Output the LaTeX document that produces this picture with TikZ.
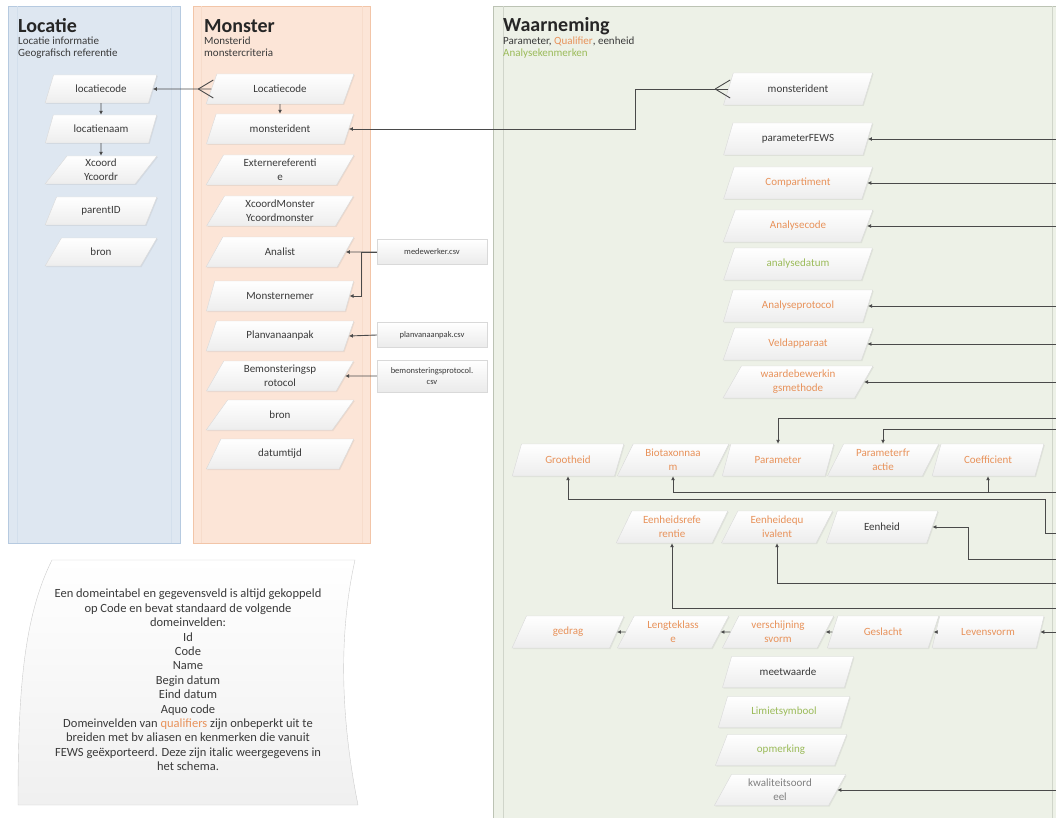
\documentclass[tikz,border=0pt]{standalone}
\usepackage{fontspec}
\setmainfont{Carlito}
\usetikzlibrary{shapes.geometric,arrows.meta,shadows}

\definecolor{tekst}{HTML}{3A3A3A}
\definecolor{qualif}{HTML}{E8925A}
\definecolor{analyse}{HTML}{9BBB59}
\definecolor{locvlak}{HTML}{DEE7F1}
\definecolor{locrand}{HTML}{B6CAE0}
\definecolor{monvlak}{HTML}{FCE5D7}
\definecolor{monrand}{HTML}{F2C5A8}
\definecolor{warvlak}{HTML}{EDF1E7}
\definecolor{warrand}{HTML}{BCC3B4}
\definecolor{lijn}{HTML}{4A4A4A}

\tikzset{
  veld/.style={trapezium, trapezium left angle=64, trapezium right angle=116,
    trapezium stretches=true, draw=gray!30, top color=white, bottom color=gray!14,
    text=tekst, font=\fontsize{11}{14}\selectfont, align=center, inner sep=1pt,
    drop shadow={opacity=0.12, shadow xshift=1pt, shadow yshift=-1pt}},
  locveld/.style={veld, minimum width=112pt, minimum height=28pt},
  monveld/.style={veld, minimum width=148pt, minimum height=30pt},
  warveld/.style={veld, minimum width=150pt, minimum height=32pt},
  rijveld/.style={veld, minimum width=112pt, minimum height=32pt},
  onderveld/.style={veld, minimum width=132pt, minimum height=31pt},
  csvveld/.style={rectangle, draw=gray!30, top color=white, bottom color=gray!16,
    text=tekst, font=\fontsize{8.5}{10.5}\selectfont, align=center, inner sep=1pt,
    minimum width=110pt, minimum height=25pt},
  qual/.style={text=qualif},
  ana/.style={text=analyse},
  titel/.style={font=\fontsize{20}{22}\selectfont\bfseries, text=black!85, anchor=west, inner sep=0pt},
  sub/.style={font=\fontsize{11}{12}\selectfont, text=tekst, anchor=north west, align=left, inner sep=0pt},
  pijl/.style={draw=lijn, line width=0.9pt, -{Latex[length=4pt,width=4pt]}},
  kraai/.style={draw=lijn, line width=0.9pt},
}

\begin{document}
\begin{tikzpicture}[x=1pt,y=-1pt]
\useasboundingbox (0,0) rectangle (1056,818);

% vlakken
\fill[locvlak] (8,6) rectangle (180,543);
\draw[locrand] (8,6) rectangle (180,543);
\draw[locrand!60] (17,6) -- (17,543) (171,6) -- (171,543);
\fill[monvlak] (193,6) rectangle (370,543);
\draw[monrand] (193,6) rectangle (370,543);
\draw[monrand!60] (201,6) -- (201,543) (362,6) -- (362,543);
\fill[warvlak] (493,6) rectangle (1056,818);
\draw[warrand] (493,818) -- (493,6) -- (1056,6);
\draw[warrand!70] (503,6) -- (503,818) (1052,6) -- (1052,818);

% titels
\node[titel] (loc-titel) at (18,26) {Locatie};
\node[sub] (loc-sub) at (18,37) {Locatie informatie\\Geografisch referentie};
\node[titel] (mon-titel) at (204,26) {Monster};
\node[sub] (mon-sub) at (204,37) {Monsterid\\monstercriteria};
\node[titel] (war-titel) at (503,26) {Waarneming};
\node[sub] (war-sub) at (503,37) {Parameter, {\color{qualif}Qualifier}, eenheid\\{\color{analyse}Analysekenmerken}};

% Locatie
\node[locveld] (loc-code) at (101,89) {locatiecode};
\node[locveld] (loc-naam) at (101,129) {locatienaam};
\node[locveld] (loc-xy) at (101,170) {Xcoord\\Ycoordr};
\node[locveld] (loc-parent) at (101,211) {parentID};
\node[locveld] (loc-bron) at (101,252) {bron};

% Monster
\node[monveld] (mon-locatie) at (280,89) {Locatiecode};
\node[monveld] (mon-ident) at (280,129) {monsterident};
\node[monveld] (mon-extern) at (280,170) {Externereferenti\\e};
\node[monveld] (mon-xy) at (280,211) {XcoordMonster\\Ycoordmonster};
\node[monveld] (mon-analist) at (280,252) {Analist};
\node[monveld] (mon-nemer) at (280,296) {Monsternemer};
\node[monveld] (mon-plan) at (280,336) {Planvanaanpak};
\node[monveld] (mon-protocol) at (280,376) {Bemonsteringsp\\rotocol};
\node[monveld] (mon-bron) at (280,415) {bron};
\node[monveld] (mon-datum) at (280,454) {datumtijd};

\node[csvveld] (csv-medewerker) at (432,252) {medewerker.csv};
\node[csvveld] (csv-plan) at (432,335) {planvanaanpak.csv};
\node[csvveld, minimum height=32pt] (csv-protocol) at (432,376) {bemonsteringsprotocol.\\csv};

% Waarneming
\node[warveld] (war-ident) at (798,89) {monsterident};
\node[warveld] (war-fews) at (798,139) {parameterFEWS};
\node[warveld, qual] (war-comp) at (798,183) {Compartiment};
\node[warveld, qual] (war-code) at (798,226) {Analysecode};
\node[warveld, ana] (war-datum) at (798,264) {analysedatum};
\node[warveld, qual] (war-protocol) at (798,306) {Analyseprotocol};
\node[warveld, qual] (war-veld) at (798,344) {Veldapparaat};
\node[warveld, qual] (war-bewerking) at (798,382) {waardebewerkin\\gsmethode};

\node[rijveld, qual] (war-grootheid) at (568,460) {Grootheid};
\node[rijveld, qual] (war-biotaxon) at (673,460) {Biotaxonnaa\\m};
\node[rijveld, qual] (war-parameter) at (778,460) {Parameter};
\node[rijveld, qual] (war-fractie) at (883,460) {Parameterfr\\actie};
\node[rijveld, qual] (war-coef) at (988,460) {Coefficient};

\node[rijveld, qual] (war-eenhref) at (672,527) {Eenheidsrefe\\rentie};
\node[rijveld, qual] (war-eenhequi) at (777,527) {Eenheidequ\\ivalent};
\node[rijveld] (war-eenheid) at (882,527) {Eenheid};

\node[rijveld, qual] (war-gedrag) at (568,632) {gedrag};
\node[rijveld, qual] (war-lengte) at (673,632) {Lengteklass\\e};
\node[rijveld, qual] (war-vorm) at (778,632) {verschijning\\svorm};
\node[rijveld, qual] (war-geslacht) at (883,632) {Geslacht};
\node[rijveld, qual] (war-levensvorm) at (988,632) {Levensvorm};

\node[onderveld] (war-meet) at (788,672) {meetwaarde};
\node[onderveld, ana] (war-limiet) at (784,712) {Limietsymbool};
\node[onderveld, ana] (war-opm) at (781,750) {opmerking};
\node[onderveld, text=gray] (war-kwal) at (780,790) {kwaliteitsoord\\eel};

% domein toelichting
\draw[draw=gray!40, top color=white, bottom color=gray!12]
  (52,560) -- (355,560) .. controls (335,650) and (345,740) .. (358,805)
  -- (18,805) .. controls (18,700) and (22,620) .. (52,560) -- cycle;
\node[font=\fontsize{12.5}{14.4}\selectfont, text=tekst, align=center] (domein) at (188,680)
  {Een domeintabel en gegevensveld is altijd gekoppeld\\
   op Code en bevat standaard de volgende\\
   domeinvelden:\\ Id\\ Code\\ Name\\ Begin datum\\ Eind datum\\ Aquo code\\
   Domeinvelden van {\color{qualif}qualifiers} zijn onbeperkt uit te\\
   breiden met bv aliasen en kenmerken die vanuit\\
   FEWS geëxporteerd. Deze zijn italic weergegevens in\\
   het schema.};

% verbindingen
\coordinate (rand) at (1056,0);
\coordinate (knik-ident) at (635,110);
\coordinate (knik-grootheid) at (1045,499);
\coordinate (knik-eenheid) at (968,540);
\coordinate (r-param) at (1056,418);
\coordinate (r-fractie) at (1056,429);
\coordinate (r-biotaxon) at (1056,492);
\coordinate (r-grootheid) at (1056,533);
\coordinate (r-eenheid) at (1056,559);
\coordinate (r-equi) at (1056,583);
\coordinate (r-ref) at (1056,608);

\draw[pijl] (mon-locatie.west) -- (loc-code.east);
\draw[kraai] ([xshift=-13pt]mon-locatie.west) -- ++(15,-9) ([xshift=-13pt]mon-locatie.west) -- ++(15,9);
\draw[pijl] (loc-code.south) -- (loc-naam.north);
\draw[pijl] (loc-naam.south) -- (loc-xy.north);
\draw[pijl] (mon-locatie.south) -- (mon-ident.north);
\draw[pijl] (war-ident.west) -| (knik-ident) |- (mon-ident.east);
\draw[kraai] ([xshift=-13pt]war-ident.west) -- ++(15,-9) ([xshift=-13pt]war-ident.west) -- ++(15,9);

\draw[pijl] (csv-medewerker.west) -- (mon-analist.east);
\draw[pijl] (csv-medewerker.west) -- ++(-15,0) |- (mon-nemer.east);
\draw[pijl] (csv-plan.west) -- (mon-plan.east);
\draw[pijl] (csv-protocol.west) -- (mon-protocol.east);

\foreach \n in {fews,comp,code,protocol,veld,bewerking,levensvorm,kwal}
  \draw[pijl] (war-\n.east -| rand) -- (war-\n.east);

\draw[pijl] (r-param) -| (war-parameter.north);
\draw[pijl] (r-fractie) -| (war-fractie.north);
\draw[pijl] (r-biotaxon) -| (war-biotaxon.south);
\draw[pijl] (war-coef.south |- r-biotaxon) -- (war-coef.south);
\draw[pijl] (r-grootheid) -| (knik-grootheid) -| (war-grootheid.south);
\draw[pijl] (r-eenheid) -| (knik-eenheid) |- (war-eenheid.east);
\draw[pijl] (r-equi) -| (war-eenhequi.south);
\draw[pijl] (r-ref) -| (war-eenhref.south);

\draw[pijl] (war-levensvorm.west) -- (war-geslacht.east);
\draw[pijl] (war-geslacht.west) -- (war-vorm.east);
\draw[pijl] (war-vorm.west) -- (war-lengte.east);
\draw[pijl] (war-lengte.west) -- (war-gedrag.east);
\end{tikzpicture}
\end{document}
